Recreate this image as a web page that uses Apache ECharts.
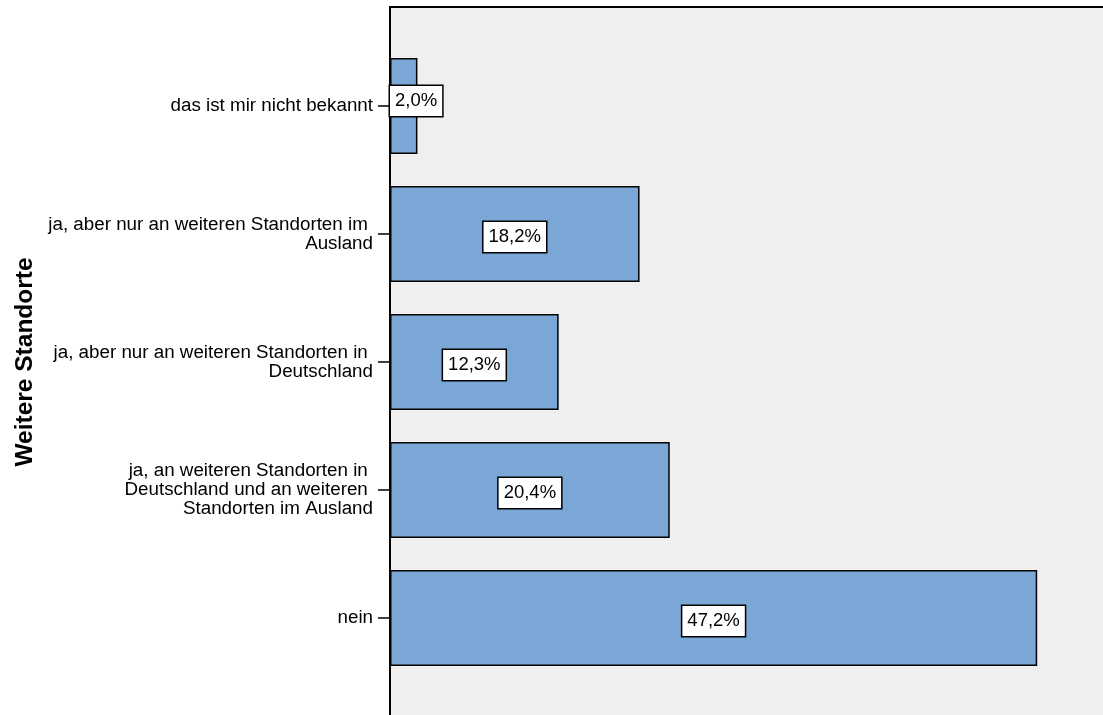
<!DOCTYPE html>
<html><head><meta charset="utf-8">
<script src="https://cdn.jsdelivr.net/npm/echarts@6/dist/echarts.min.js"></script>
<style>html,body{margin:0;padding:0;background:#fff}#c{width:1103px;height:715px}</style>
</head><body><div id="c"></div>
<script>
const categories = [
  'das ist mir nicht bekannt',
  'ja, aber nur an weiteren Standorten im \nAusland',
  'ja, aber nur an weiteren Standorten in \nDeutschland',
  'ja, an weiteren Standorten in \nDeutschland und an weiteren \nStandorten im Ausland',
  'nein'
];
const values = [2.0, 18.2, 12.3, 20.4, 47.2];
const axisTitle = 'Weitere Standorte';
const FONT = 'Liberation Sans, Arial, sans-serif';

const chart = echarts.init(document.getElementById('c'), null, {renderer: 'canvas'});
chart.setOption({
  animation: false,
  grid: [
    {left: 390, right: 0, top: 7, bottom: 0, show: true, backgroundColor: '#efefef', borderWidth: 0},
    {left: 390, right: 0, top: 42, bottom: 33}
  ],
  xAxis: [
    {gridIndex: 0, type: 'value', position: 'top', min: 0, max: 1,
     axisLine: {show: true, onZero: false, lineStyle: {color: '#000', width: 2}},
     axisTick: {show: false}, axisLabel: {show: false}, splitLine: {show: false}},
    {gridIndex: 1, type: 'value', min: 0, max: 52, show: false, splitLine: {show: false}}
  ],
  yAxis: [
    {gridIndex: 0, type: 'value', min: 0, max: 1,
     axisLine: {show: true, onZero: false, lineStyle: {color: '#000', width: 2}},
     axisTick: {show: false}, axisLabel: {show: false}, splitLine: {show: false}},
    {gridIndex: 1, type: 'category', data: categories, inverse: true,
     axisLine: {show: false},
     axisTick: {show: true, alignWithLabel: true, length: 12, lineStyle: {color: '#000', width: 1.5}},
     axisLabel: {color: '#000', fontFamily: FONT, fontSize: 18.8, lineHeight: 19, margin: 17, align: 'right',
                 backgroundColor: 'rgba(255,255,255,0)', padding: [7, 0, 0, 0]},
     name: axisTitle, nameLocation: 'middle', nameGap: 348, nameRotate: 90,
     nameTextStyle: {color: '#000', fontFamily: FONT, fontSize: 24.5, fontWeight: 'bold'}}
  ],
  series: [{
    type: 'bar', xAxisIndex: 1, yAxisIndex: 1, barWidth: '75%',
    data: values.map((v, i) => ({
      value: v,
      label: i === 0 ? {position: 'insideLeft', distance: 0, offset: [0, -5]} : {position: 'inside', offset: [0, 3]}
    })),
    itemStyle: {color: '#7ba7d6', borderColor: '#000', borderWidth: 1.5},
    label: {
      show: true, color: '#000', fontFamily: FONT, fontSize: 18.5, lineHeight: 20,
      backgroundColor: '#fff', borderColor: '#000', borderWidth: 1.5, padding: [5, 5],
      formatter: p => p.value.toFixed(1).replace('.', ',') + '%'
    }
  }]
});
</script></body></html>
